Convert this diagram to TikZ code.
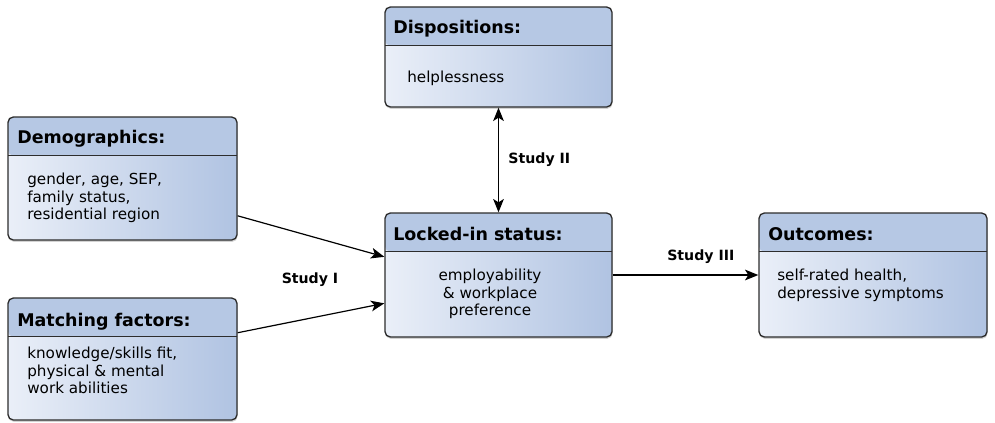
\documentclass[tikz,border=0pt]{standalone}
\usepackage{fontspec}
\setmainfont{DejaVu Sans}
\usetikzlibrary{arrows.meta,positioning,calc,fit,shadows}
\definecolor{hdblue}{RGB}{182,200,228}
\definecolor{bdlight}{RGB}{234,239,248}
\definecolor{bddark}{RGB}{176,195,226}
\definecolor{edgegray}{RGB}{45,45,45}

\tikzset{
  box/.style={draw=edgegray, line width=1pt, rounded corners=4pt, inner sep=0pt,
    left color=bdlight, right color=bddark,
    drop shadow={shadow xshift=0.4pt, shadow yshift=-1.4pt, opacity=0.35},
    path picture={
      \fill[hdblue] (path picture bounding box.north west) rectangle ($(path picture bounding box.north east)+(0,-29pt)$);
      \draw[edgegray, line width=1pt] ($(path picture bounding box.north west)+(0,-29pt)$) -- ($(path picture bounding box.north east)+(0,-29pt)$);
    }},
  hdtext/.style={inner sep=0pt, font=\fontsize{13.1}{15}\selectfont\bfseries},
  bodytext/.style={inner sep=0pt, align=left, font=\fontsize{11.4}{13.3}\selectfont},
  studylabel/.style={inner sep=0pt, font=\fontsize{10.6}{12}\selectfont\bfseries},
  arr/.style={-{Stealth[length=10pt,width=8pt,inset=2.5pt]}, line width=0.9pt},
  arrboth/.style={{Stealth[length=10pt,width=8pt,inset=2.5pt]}-{Stealth[length=10pt,width=8pt,inset=2.5pt]}, line width=0.9pt}
}

\begin{document}
\begin{tikzpicture}[x=0.75pt, y=-0.75pt]
  \useasboundingbox (0,0) rectangle (995,422);

  % boxes
  \node[box, fit={(385,7) (612,107)}] (disp) {};
  \node[box, fit={(8,117) (237,240)}] (demo) {};
  \node[box, fit={(8,298) (237,420)}] (match) {};
  \node[box, fit={(385,213) (612,337)}] (locked) {};
  \node[box, fit={(759,213) (987,337)}] (out) {};

  % titles and contents
  \node[hdtext, anchor=base west] (disp-title) at (393,33) {Dispositions:};
  \node[bodytext, anchor=north west] (disp-text) at (407,70.5) {helplessness};

  \node[hdtext, anchor=base west] (demo-title) at (17,143) {Demographics:};
  \node[bodytext, anchor=north west] (demo-text) at (27,172.5) {gender, age, SEP,\\family status,\\residential region};

  \node[hdtext, anchor=base west] (match-title) at (17,326) {Matching factors:};
  \node[bodytext, anchor=north west] (match-text) at (27,346.5) {knowledge/skills fit,\\physical \& mental\\work abilities};

  \node[hdtext, anchor=base west] (locked-title) at (393,240) {Locked-in status:};
  \node[bodytext, align=center, anchor=north] (locked-text) at (490,268.5) {employability\\\& workplace\\preference};

  \node[hdtext, anchor=base west] (out-title) at (768,240) {Outcomes:};
  \node[bodytext, anchor=north west] (out-text) at (777,268.5) {self-rated health,\\depressive symptoms};

  % connectors
  \draw[arr] ($(demo.north east)!0.8!(demo.south east)$) -- ($(locked.north west)!0.355!(locked.south west)$);
  \draw[arr] ($(match.north east)!0.287!(match.south east)$) -- ($(locked.north west)!0.726!(locked.south west)$);
  \node[studylabel] (study1) at (310,280) {Study I};
  \draw[arrboth] (disp.south) -- node[studylabel, right=7pt] (study2) {Study II} (locked.north);
  \draw[arr] (locked.east) -- node[studylabel, above=8pt, pos=0.605] (study3) {Study III} (out.west);
\end{tikzpicture}
\end{document}
